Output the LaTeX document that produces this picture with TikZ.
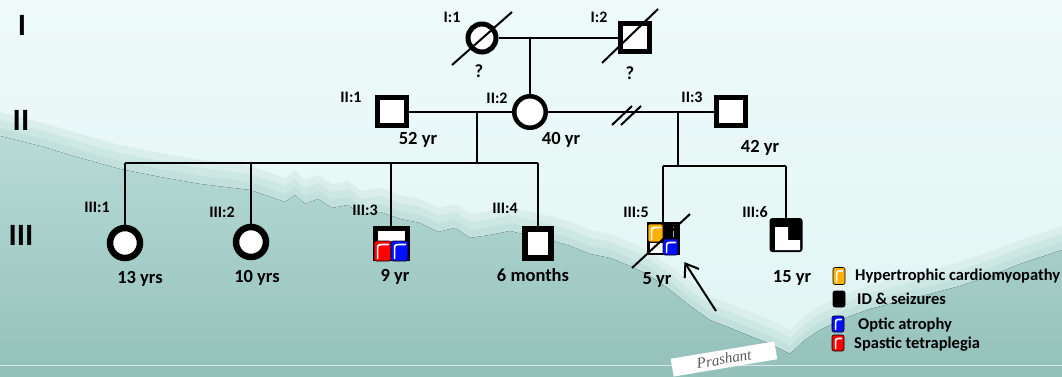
\documentclass[tikz,border=0pt]{standalone}
\usepackage{fontspec}
\setmainfont{Carlito}
\newfontfamily\sigfont{Liberation Serif}
\usetikzlibrary{arrows.meta}
\definecolor{bgtop}{HTML}{EEFAFA}
\definecolor{bgbot}{HTML}{E0F5F3}
\definecolor{fog1}{HTML}{DAEFEC}
\definecolor{fog2}{HTML}{CDE7E3}
\definecolor{fog3}{HTML}{C2E1DC}
\definecolor{tealtop}{HTML}{B8DBD6}
\definecolor{tealbot}{HTML}{8FBEB6}
\definecolor{hcm}{HTML}{FFB000}
\definecolor{optic}{HTML}{0010FF}
\definecolor{spastic}{HTML}{FF0000}
\newcommand\traitbox[5]{%
  \begin{scope}[shift={(#2,#3)}]
    \filldraw[fill=#1, draw=black, line width=0.6pt, rounded corners=2pt] (-#4/2,-#5/2) rectangle (#4/2,#5/2);
    \draw[white, line width=1.7pt, line cap=round] (-#4/2+3.6,#5/2-2.5) -- (-#4/2+3.6,-#5/2+6.5)
      .. controls (-#4/2+3.6,-#5/2+3.4) and (-#4/2+5,-#5/2+3.4) .. (#4/2-2.6,-#5/2+3.4);
  \end{scope}}
\newcommand\ridgepath{(0,112) -- (40,122) -- (80,134) -- (120,145) -- (160,153) -- (200,160) -- (250,166) -- (285,178)
  -- (295,171) -- (305,180) -- (318,175) -- (332,184) -- (348,181) -- (362,191) -- (380,188)
  -- (400,195) -- (420,199) -- (438,208) -- (455,204) -- (470,214) -- (490,211) -- (510,207)
  -- (530,212) -- (550,216) -- (570,222) -- (590,230) -- (610,234) -- (630,242) -- (650,252)
  -- (670,266) -- (690,282) -- (710,296) -- (730,304) -- (750,312) -- (770,320) -- (790,330)
  -- (805,316) -- (820,306) -- (845,294) -- (870,285) -- (900,277) -- (930,270) -- (960,262)
  -- (990,252) -- (1020,240) -- (1062,226) -- (1062,377) -- (0,377) -- cycle}
\begin{document}
\begin{tikzpicture}[x=1pt,y=-1pt,
  conn/.style={line width=2pt, black},
  dead/.style={line width=2pt, black},
  male/.style={rectangle, draw=black, fill=white, inner sep=0pt, line width=5pt, minimum width=29pt, minimum height=28pt},
  female/.style={circle, draw=black, fill=white, inner sep=0pt, line width=4.5pt, minimum size=29pt},
  idlab/.style={font=\bfseries\fontsize{16}{17}\selectfont, inner sep=0pt},
  agelab/.style={font=\bfseries\fontsize{18.5}{19}\selectfont, inner sep=0pt},
  genlab/.style={font=\bfseries\fontsize{31}{31}\selectfont, inner sep=0pt},
  legtext/.style={font=\bfseries\fontsize{16.5}{17}\selectfont, inner sep=0pt, anchor=west}]
\useasboundingbox (0,0) rectangle (1062,377);
% background
\fill[top color=bgtop, bottom color=bgbot] (0,0) rectangle (1062,377);
\fill[fog1] \ridgepath;
\fill[fog2, shift={(0,8)}] \ridgepath;
\fill[fog3, shift={(0,16)}] \ridgepath;
\fill[top color=tealtop, bottom color=tealbot, shift={(0,24)}] \ridgepath;
\draw[color=tealtop!60!white, line width=1pt] (0,365) -- (1062,365);
\node[rotate=9.5, fill=white, inner sep=0pt, minimum width=105pt, minimum height=18pt,
  font=\sigfont\itshape\fontsize{15}{15}\selectfont, text=black!65] (sig) at (724,359) {Prashant};

% generation labels
\node[genlab] (gI) at (22,25) {I};
\node[genlab] (gII) at (21,120) {II};
\node[genlab] (gIII) at (21,235) {III};

% generation I
\node[female, line width=5pt, minimum size=28pt] (I1) at (482,38) {};
\node[male] (I2) at (635,38) {};
\draw[dead] ([shift={(-30,27)}]I1.center) -- ([shift={(30,-26)}]I1.center);
\draw[dead] ([shift={(-33,25)}]I2.center) -- ([shift={(23,-29)}]I2.center);
\node[idlab] (lI1) at (452,17) {I:1};
\node[idlab] (lI2) at (599,17) {I:2};
\node[agelab] (q1) at (479,71) {?};
\node[agelab] (q2) at (630,73) {?};

% generation II
\node[male] (II1) at (392,112) {};
\node[female, minimum size=31.5pt] (II2) at (530,112) {};
\node[male] (II3) at (731,112) {};
\node[idlab] (lII1) at (351,97) {II:1};
\node[idlab] (lII2) at (497,98) {II:2};
\node[idlab] (lII3) at (692,97) {II:3};
\node[agelab] (aII1) at (418,140) {52 yr};
\node[agelab] (aII2) at (561,140) {40 yr};
\node[agelab] (aII3) at (760,148) {42 yr};

% generation III
\node[female, line width=6.5pt, minimum size=30pt] (III1) at (125,243) {};
\node[female, line width=6.5pt, minimum size=30pt] (III2) at (251,242) {};
\node[male, line width=5pt, minimum width=32pt, minimum height=30pt] (III3) at (391,243) {};
\node[male, line width=6pt, minimum width=26pt, minimum height=29pt] (III4) at (538,243) {};
\node[male, fill=black, line width=2pt, minimum width=31pt, minimum height=31pt] (III5) at (663,238) {};
\node[male, fill=black, line width=2pt, minimum width=31pt, minimum height=32pt, rounded corners=2pt] (III6) at (786,235) {};

% affected fillings
\traitbox{spastic}{382.5}{251}{17}{20}
\traitbox{optic}{399.5}{251}{17}{20}
\traitbox{hcm}{655.5}{233}{15}{18}
\fill[white] (650,243) rectangle (663,253);
\traitbox{optic}{670.5}{247}{15}{16}
\draw[black!35, line width=1pt] (673,227) -- (673,237);
\fill[white] (775,227) rectangle (788,241) (775,240) rectangle (800,250);
\draw[dead] ([shift={(-31,30)}]III5.center) -- ([shift={(27,-24)}]III5.center);

\node[idlab] (lIII1) at (97,207) {III:1};
\node[idlab] (lIII2) at (222,212) {III:2};
\node[idlab] (lIII3) at (365,210) {III:3};
\node[idlab] (lIII4) at (505,208) {III:4};
\node[idlab] (lIII5) at (636,212) {III:5};
\node[idlab] (lIII6) at (755,212) {III:6};
\node[agelab] (aIII1) at (140,279) {13 yrs};
\node[agelab] (aIII2) at (257,278) {10 yrs};
\node[agelab] (aIII3) at (395,277) {9 yr};
\node[agelab] (aIII4) at (533,275) {6 months};
\node[agelab] (aIII5) at (657,280) {5 yr};
\node[agelab] (aIII6) at (792,278) {15 yr};

% connectors
\draw[conn] (I1.east) -- (I2.west);
\draw[conn] (II2.north) -- (II2.north |- I1.east);
\draw[conn] (II1.east) -- (II2.west);
\draw[conn] (II2.east) -- (II3.west);
\coordinate (sep) at (627,112);
\draw[conn] ([shift={(-15,13)}]sep.center) -- ([shift={(5,-6)}]sep.center);
\draw[conn] ([shift={(-6,13)}]sep.center) -- ([shift={(14,-6)}]sep.center);
\coordinate (m1) at (477,112);
\coordinate (sib1) at (477,163);
\draw[conn] (m1) -- (sib1);
\draw[conn] (III1.north |- sib1) -- (III4.north |- sib1);
\foreach \k in {III1,III2,III3,III4} \draw[conn] (\k.north) -- (\k.north |- sib1);
\coordinate (m2) at (678,112);
\coordinate (sib2) at (678,166);
\draw[conn] (m2) -- (sib2);
\draw[conn] (III5.north |- sib2) -- (III6.north |- sib2);
\foreach \k in {III5,III6} \draw[conn] (\k.north) -- (\k.north |- sib2);

% proband arrow
\coordinate (arrtail) at (716,311);
\draw[conn, shorten >=9pt, -{Straight Barb[length=12pt, width=17pt, line width=2pt]}] (arrtail) -- (III5.south east);

% legend
\traitbox{hcm}{839}{276}{12}{17}
\filldraw[fill=black, draw=black, line width=0.6pt, rounded corners=2pt] (833,291) rectangle (845,307);
\traitbox{optic}{838}{324}{12}{16}
\traitbox{spastic}{838}{343}{12}{16}
\node[legtext] (leg1) at (855,276) {Hypertrophic cardiomyopathy};
\node[legtext] (leg2) at (857,299) {ID \& seizures};
\node[legtext] (leg3) at (858,325) {Optic atrophy};
\node[legtext] (leg4) at (854,344) {Spastic tetraplegia};
\end{tikzpicture}
\end{document}
